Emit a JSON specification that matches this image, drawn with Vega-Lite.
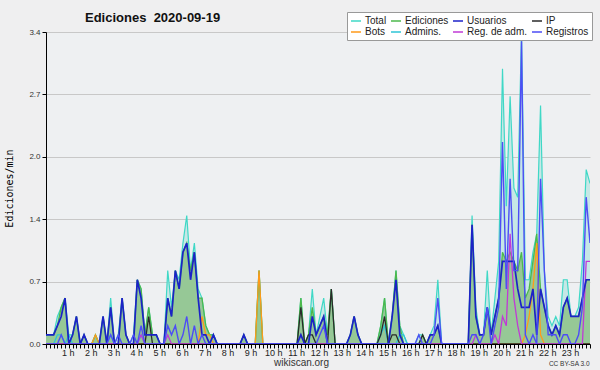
{
"$schema": "https://vega.github.io/schema/vega-lite/v6.json",
"width": 544, "height": 312,
"autosize": {"type": "none"},
"padding": {"left": 46, "top": 32, "right": 10, "bottom": 26},
"background": "#efeff0",
"title": {"text": "Ediciones\u00a0 2020-09-19", "anchor": "start", "frame": "group", "dx": 39, "dy": 14, "offset": -9, "baseline": "alphabetic", "font": "Liberation Sans", "fontSize": 13, "fontWeight": "bold", "color": "#111111"},
"data": {"values": [
{"t":0,"total":0.1,"ed":0.1,"us":0.1,"ip":0,"bots":0,"adm":0,"regadm":0,"reg":0},
{"t":10,"total":0.1,"ed":0.1,"us":0.1,"ip":0,"bots":0,"adm":0,"regadm":0,"reg":0},
{"t":20,"total":0.1,"ed":0.1,"us":0.1,"ip":0,"bots":0,"adm":0,"regadm":0,"reg":0},
{"t":30,"total":0.3,"ed":0.2,"us":0.2,"ip":0,"bots":0,"adm":0.1,"regadm":0,"reg":0},
{"t":40,"total":0.4,"ed":0.4,"us":0.3,"ip":0,"bots":0,"adm":0.1,"regadm":0,"reg":0.1},
{"t":50,"total":0.5,"ed":0.5,"us":0.5,"ip":0,"bots":0,"adm":0,"regadm":0,"reg":0},
{"t":60,"total":0.1,"ed":0,"us":0,"ip":0,"bots":0,"adm":0.1,"regadm":0,"reg":0},
{"t":70,"total":0.1,"ed":0.1,"us":0.1,"ip":0,"bots":0,"adm":0,"regadm":0,"reg":0},
{"t":80,"total":0.3,"ed":0.3,"us":0.3,"ip":0,"bots":0,"adm":0,"regadm":0,"reg":0},
{"t":90,"total":0,"ed":0,"us":0,"ip":0,"bots":0,"adm":0,"regadm":0,"reg":0},
{"t":100,"total":0.1,"ed":0.1,"us":0.1,"ip":0,"bots":0,"adm":0,"regadm":0,"reg":0},
{"t":110,"total":0,"ed":0,"us":0,"ip":0,"bots":0,"adm":0,"regadm":0,"reg":0},
{"t":120,"total":0,"ed":0,"us":0,"ip":0,"bots":0,"adm":0,"regadm":0,"reg":0},
{"t":130,"total":0.1,"ed":0.1,"us":0,"ip":0,"bots":0.1,"adm":0,"regadm":0,"reg":0},
{"t":140,"total":0,"ed":0,"us":0,"ip":0,"bots":0,"adm":0,"regadm":0,"reg":0},
{"t":150,"total":0.3,"ed":0.3,"us":0.3,"ip":0,"bots":0,"adm":0,"regadm":0,"reg":0},
{"t":160,"total":0,"ed":0,"us":0,"ip":0,"bots":0,"adm":0,"regadm":0,"reg":0},
{"t":170,"total":0.5,"ed":0.4,"us":0.4,"ip":0,"bots":0,"adm":0.1,"regadm":0,"reg":0.1},
{"t":180,"total":0,"ed":0,"us":0,"ip":0,"bots":0,"adm":0,"regadm":0,"reg":0},
{"t":190,"total":0.1,"ed":0,"us":0,"ip":0,"bots":0,"adm":0,"regadm":0,"reg":0.1},
{"t":200,"total":0.5,"ed":0.5,"us":0.5,"ip":0,"bots":0,"adm":0,"regadm":0,"reg":0},
{"t":210,"total":0.1,"ed":0.1,"us":0.1,"ip":0,"bots":0,"adm":0,"regadm":0,"reg":0},
{"t":220,"total":0,"ed":0,"us":0,"ip":0,"bots":0,"adm":0,"regadm":0,"reg":0},
{"t":230,"total":0.1,"ed":0,"us":0,"ip":0,"bots":0,"adm":0,"regadm":0,"reg":0.1},
{"t":240,"total":0.7,"ed":0.7,"us":0.7,"ip":0,"bots":0,"adm":0,"regadm":0,"reg":0},
{"t":250,"total":0.6,"ed":0.6,"us":0.5,"ip":0,"bots":0,"adm":0.1,"regadm":0.1,"reg":0.2},
{"t":260,"total":0.1,"ed":0.1,"us":0.1,"ip":0,"bots":0,"adm":0,"regadm":0,"reg":0},
{"t":270,"total":0.4,"ed":0.4,"us":0.1,"ip":0.3,"bots":0,"adm":0,"regadm":0,"reg":0},
{"t":280,"total":0.1,"ed":0.1,"us":0.1,"ip":0,"bots":0,"adm":0,"regadm":0,"reg":0},
{"t":290,"total":0.1,"ed":0.1,"us":0.1,"ip":0,"bots":0,"adm":0,"regadm":0,"reg":0},
{"t":300,"total":0,"ed":0,"us":0,"ip":0,"bots":0,"adm":0,"regadm":0,"reg":0},
{"t":310,"total":0,"ed":0,"us":0,"ip":0,"bots":0,"adm":0,"regadm":0,"reg":0},
{"t":320,"total":0.8,"ed":0.5,"us":0.5,"ip":0,"bots":0,"adm":0,"regadm":0.1,"reg":0.2},
{"t":330,"total":0.4,"ed":0.3,"us":0.3,"ip":0,"bots":0,"adm":0,"regadm":0,"reg":0.1},
{"t":340,"total":0.8,"ed":0.8,"us":0.8,"ip":0,"bots":0,"adm":0,"regadm":0,"reg":0.2},
{"t":350,"total":0.7,"ed":0.6,"us":0.6,"ip":0,"bots":0,"adm":0,"regadm":0,"reg":0},
{"t":360,"total":1.1,"ed":1.0,"us":1.0,"ip":0,"bots":0,"adm":0,"regadm":0,"reg":0.1},
{"t":370,"total":1.4,"ed":1.1,"us":1.1,"ip":0,"bots":0,"adm":0,"regadm":0,"reg":0.3},
{"t":380,"total":0.8,"ed":0.8,"us":0.7,"ip":0,"bots":0,"adm":0,"regadm":0,"reg":0},
{"t":390,"total":1.1,"ed":1.0,"us":1.0,"ip":0,"bots":0,"adm":0,"regadm":0,"reg":0.2},
{"t":400,"total":0.6,"ed":0.5,"us":0.5,"ip":0,"bots":0,"adm":0,"regadm":0,"reg":0},
{"t":410,"total":0.5,"ed":0.5,"us":0.1,"ip":0,"bots":0.3,"adm":0,"regadm":0,"reg":0.1},
{"t":420,"total":0.2,"ed":0.2,"us":0.1,"ip":0,"bots":0.1,"adm":0,"regadm":0,"reg":0},
{"t":430,"total":0.1,"ed":0.1,"us":0,"ip":0,"bots":0.1,"adm":0,"regadm":0,"reg":0},
{"t":440,"total":0.1,"ed":0.1,"us":0.1,"ip":0,"bots":0,"adm":0.1,"regadm":0,"reg":0},
{"t":450,"total":0,"ed":0,"us":0,"ip":0,"bots":0,"adm":0,"regadm":0,"reg":0},
{"t":460,"total":0,"ed":0,"us":0,"ip":0,"bots":0,"adm":0,"regadm":0,"reg":0},
{"t":470,"total":0,"ed":0,"us":0,"ip":0,"bots":0,"adm":0,"regadm":0,"reg":0},
{"t":480,"total":0,"ed":0,"us":0,"ip":0,"bots":0,"adm":0,"regadm":0,"reg":0},
{"t":490,"total":0,"ed":0,"us":0,"ip":0,"bots":0,"adm":0,"regadm":0,"reg":0},
{"t":500,"total":0,"ed":0,"us":0,"ip":0,"bots":0,"adm":0,"regadm":0,"reg":0},
{"t":510,"total":0,"ed":0,"us":0,"ip":0,"bots":0,"adm":0,"regadm":0,"reg":0},
{"t":520,"total":0.1,"ed":0.1,"us":0.1,"ip":0,"bots":0,"adm":0,"regadm":0,"reg":0},
{"t":530,"total":0,"ed":0,"us":0,"ip":0,"bots":0,"adm":0,"regadm":0,"reg":0},
{"t":540,"total":0,"ed":0,"us":0,"ip":0,"bots":0,"adm":0,"regadm":0,"reg":0},
{"t":550,"total":0,"ed":0,"us":0,"ip":0,"bots":0,"adm":0,"regadm":0,"reg":0},
{"t":560,"total":0.8,"ed":0.8,"us":0,"ip":0,"bots":0.8,"adm":0,"regadm":0,"reg":0},
{"t":570,"total":0,"ed":0,"us":0,"ip":0,"bots":0,"adm":0,"regadm":0,"reg":0},
{"t":580,"total":0,"ed":0,"us":0,"ip":0,"bots":0,"adm":0,"regadm":0,"reg":0},
{"t":590,"total":0,"ed":0,"us":0,"ip":0,"bots":0,"adm":0,"regadm":0,"reg":0},
{"t":600,"total":0,"ed":0,"us":0,"ip":0,"bots":0,"adm":0,"regadm":0,"reg":0},
{"t":610,"total":0,"ed":0,"us":0,"ip":0,"bots":0,"adm":0,"regadm":0,"reg":0},
{"t":620,"total":0,"ed":0,"us":0,"ip":0,"bots":0,"adm":0,"regadm":0,"reg":0},
{"t":630,"total":0,"ed":0,"us":0,"ip":0,"bots":0,"adm":0,"regadm":0,"reg":0},
{"t":640,"total":0,"ed":0,"us":0,"ip":0,"bots":0,"adm":0,"regadm":0,"reg":0},
{"t":650,"total":0,"ed":0,"us":0,"ip":0,"bots":0,"adm":0,"regadm":0,"reg":0},
{"t":660,"total":0,"ed":0,"us":0,"ip":0,"bots":0,"adm":0,"regadm":0,"reg":0},
{"t":670,"total":0.5,"ed":0.5,"us":0.1,"ip":0.4,"bots":0,"adm":0,"regadm":0,"reg":0},
{"t":680,"total":0,"ed":0,"us":0,"ip":0,"bots":0,"adm":0,"regadm":0,"reg":0},
{"t":690,"total":0.1,"ed":0.1,"us":0,"ip":0.1,"bots":0,"adm":0,"regadm":0,"reg":0},
{"t":700,"total":0.6,"ed":0.4,"us":0.3,"ip":0.1,"bots":0,"adm":0,"regadm":0,"reg":0},
{"t":710,"total":0.1,"ed":0.1,"us":0.1,"ip":0,"bots":0,"adm":0,"regadm":0,"reg":0},
{"t":720,"total":0.3,"ed":0.2,"us":0.2,"ip":0,"bots":0,"adm":0,"regadm":0,"reg":0.1},
{"t":730,"total":0.5,"ed":0.3,"us":0.3,"ip":0,"bots":0,"adm":0,"regadm":0,"reg":0.2},
{"t":740,"total":0.1,"ed":0.1,"us":0,"ip":0,"bots":0,"adm":0,"regadm":0,"reg":0},
{"t":750,"total":0.6,"ed":0.6,"us":0,"ip":0.6,"bots":0,"adm":0,"regadm":0,"reg":0},
{"t":760,"total":0,"ed":0,"us":0,"ip":0,"bots":0,"adm":0,"regadm":0,"reg":0},
{"t":770,"total":0,"ed":0,"us":0,"ip":0,"bots":0,"adm":0,"regadm":0,"reg":0},
{"t":780,"total":0,"ed":0,"us":0,"ip":0,"bots":0,"adm":0,"regadm":0,"reg":0},
{"t":790,"total":0,"ed":0,"us":0,"ip":0,"bots":0,"adm":0,"regadm":0,"reg":0},
{"t":800,"total":0.1,"ed":0.1,"us":0.1,"ip":0,"bots":0,"adm":0,"regadm":0,"reg":0},
{"t":810,"total":0.3,"ed":0.3,"us":0.3,"ip":0,"bots":0,"adm":0,"regadm":0,"reg":0},
{"t":820,"total":0.1,"ed":0.1,"us":0.1,"ip":0,"bots":0,"adm":0,"regadm":0,"reg":0},
{"t":830,"total":0,"ed":0,"us":0,"ip":0,"bots":0,"adm":0,"regadm":0,"reg":0},
{"t":840,"total":0,"ed":0,"us":0,"ip":0,"bots":0,"adm":0,"regadm":0,"reg":0},
{"t":850,"total":0,"ed":0,"us":0,"ip":0,"bots":0,"adm":0,"regadm":0,"reg":0},
{"t":860,"total":0,"ed":0,"us":0,"ip":0,"bots":0,"adm":0,"regadm":0,"reg":0},
{"t":870,"total":0,"ed":0,"us":0,"ip":0,"bots":0,"adm":0,"regadm":0,"reg":0},
{"t":880,"total":0.2,"ed":0.2,"us":0,"ip":0.1,"bots":0,"adm":0.1,"regadm":0,"reg":0},
{"t":890,"total":0.5,"ed":0.5,"us":0,"ip":0.3,"bots":0,"adm":0.2,"regadm":0,"reg":0},
{"t":900,"total":0,"ed":0,"us":0,"ip":0,"bots":0,"adm":0,"regadm":0,"reg":0},
{"t":910,"total":0.3,"ed":0.3,"us":0.3,"ip":0.1,"bots":0,"adm":0,"regadm":0,"reg":0},
{"t":920,"total":0.8,"ed":0.8,"us":0.7,"ip":0.1,"bots":0,"adm":0,"regadm":0,"reg":0},
{"t":930,"total":0.2,"ed":0.2,"us":0.1,"ip":0,"bots":0,"adm":0.1,"regadm":0,"reg":0},
{"t":940,"total":0.1,"ed":0,"us":0,"ip":0,"bots":0,"adm":0.1,"regadm":0,"reg":0},
{"t":950,"total":0,"ed":0,"us":0,"ip":0,"bots":0,"adm":0,"regadm":0,"reg":0},
{"t":960,"total":0,"ed":0,"us":0,"ip":0,"bots":0,"adm":0,"regadm":0,"reg":0},
{"t":970,"total":0,"ed":0,"us":0,"ip":0,"bots":0,"adm":0,"regadm":0,"reg":0},
{"t":980,"total":0.1,"ed":0,"us":0,"ip":0,"bots":0,"adm":0,"regadm":0,"reg":0.1},
{"t":990,"total":0.1,"ed":0.1,"us":0,"ip":0.1,"bots":0,"adm":0,"regadm":0,"reg":0},
{"t":1000,"total":0,"ed":0,"us":0,"ip":0,"bots":0,"adm":0,"regadm":0,"reg":0},
{"t":1010,"total":0.1,"ed":0.1,"us":0.1,"ip":0,"bots":0,"adm":0,"regadm":0,"reg":0},
{"t":1020,"total":0.2,"ed":0.1,"us":0.1,"ip":0,"bots":0,"adm":0,"regadm":0,"reg":0.1},
{"t":1030,"total":0.7,"ed":0.2,"us":0.2,"ip":0,"bots":0,"adm":0,"regadm":0,"reg":0.5},
{"t":1040,"total":0,"ed":0,"us":0,"ip":0,"bots":0,"adm":0,"regadm":0,"reg":0},
{"t":1050,"total":0,"ed":0,"us":0,"ip":0,"bots":0,"adm":0,"regadm":0,"reg":0},
{"t":1060,"total":0,"ed":0,"us":0,"ip":0,"bots":0,"adm":0,"regadm":0,"reg":0},
{"t":1070,"total":0,"ed":0,"us":0,"ip":0,"bots":0,"adm":0,"regadm":0,"reg":0},
{"t":1080,"total":0,"ed":0,"us":0,"ip":0,"bots":0,"adm":0,"regadm":0,"reg":0},
{"t":1090,"total":0,"ed":0,"us":0,"ip":0,"bots":0,"adm":0,"regadm":0,"reg":0},
{"t":1100,"total":0,"ed":0,"us":0,"ip":0,"bots":0,"adm":0,"regadm":0,"reg":0},
{"t":1110,"total":0,"ed":0,"us":0,"ip":0,"bots":0,"adm":0,"regadm":0,"reg":0},
{"t":1120,"total":1.4,"ed":1.3,"us":1.3,"ip":0,"bots":0,"adm":0,"regadm":0,"reg":0.1},
{"t":1130,"total":0.4,"ed":0.3,"us":0.3,"ip":0,"bots":0,"adm":0,"regadm":0.1,"reg":0.1},
{"t":1140,"total":0.1,"ed":0.1,"us":0.1,"ip":0,"bots":0,"adm":0,"regadm":0,"reg":0},
{"t":1150,"total":0.1,"ed":0.1,"us":0.1,"ip":0,"bots":0,"adm":0,"regadm":0,"reg":0.1},
{"t":1160,"total":0.8,"ed":0.4,"us":0.4,"ip":0,"bots":0,"adm":0,"regadm":0,"reg":0.4},
{"t":1170,"total":0.1,"ed":0.1,"us":0.1,"ip":0,"bots":0,"adm":0,"regadm":0,"reg":0},
{"t":1180,"total":0.5,"ed":0.3,"us":0.3,"ip":0,"bots":0,"adm":0,"regadm":0.1,"reg":0.2},
{"t":1190,"total":0.9,"ed":0.5,"us":0.5,"ip":0,"bots":0,"adm":0,"regadm":0,"reg":0.4},
{"t":1200,"total":3.0,"ed":1.0,"us":0.9,"ip":0,"bots":0,"adm":0,"regadm":0.3,"reg":2.2},
{"t":1210,"total":1.5,"ed":0.9,"us":0.9,"ip":0,"bots":0,"adm":0,"regadm":0.2,"reg":0.6},
{"t":1220,"total":2.7,"ed":1.0,"us":0.9,"ip":0,"bots":0,"adm":0,"regadm":1.2,"reg":1.8},
{"t":1230,"total":1.7,"ed":0.9,"us":0.9,"ip":0,"bots":0,"adm":0,"regadm":0.5,"reg":0.8},
{"t":1240,"total":1.6,"ed":0.8,"us":0.6,"ip":0,"bots":0,"adm":0,"regadm":0.2,"reg":0.8},
{"t":1250,"total":3.4,"ed":1.0,"us":0.4,"ip":0,"bots":0,"adm":0,"regadm":0,"reg":3.3},
{"t":1260,"total":0.7,"ed":0.5,"us":0.4,"ip":0,"bots":0.1,"adm":0,"regadm":0,"reg":0.1},
{"t":1270,"total":0.7,"ed":0.6,"us":0.4,"ip":0,"bots":0.3,"adm":0,"regadm":0,"reg":0},
{"t":1280,"total":1.0,"ed":0.9,"us":0.6,"ip":0,"bots":0.6,"adm":0,"regadm":0,"reg":0.1},
{"t":1290,"total":1.2,"ed":1.2,"us":0.1,"ip":0,"bots":1.1,"adm":0,"regadm":0,"reg":0},
{"t":1300,"total":2.6,"ed":0.6,"us":0.6,"ip":0,"bots":0.1,"adm":0,"regadm":0,"reg":1.8},
{"t":1310,"total":0.8,"ed":0.4,"us":0.4,"ip":0,"bots":0,"adm":0,"regadm":0,"reg":0.8},
{"t":1320,"total":0.3,"ed":0.2,"us":0.2,"ip":0,"bots":0,"adm":0,"regadm":0,"reg":0.1},
{"t":1330,"total":0.2,"ed":0.1,"us":0.1,"ip":0,"bots":0,"adm":0,"regadm":0,"reg":0.1},
{"t":1340,"total":0.3,"ed":0.2,"us":0.2,"ip":0,"bots":0,"adm":0,"regadm":0,"reg":0.1},
{"t":1350,"total":0.2,"ed":0.1,"us":0.1,"ip":0,"bots":0,"adm":0,"regadm":0,"reg":0},
{"t":1360,"total":0.7,"ed":0.4,"us":0.4,"ip":0,"bots":0,"adm":0,"regadm":0,"reg":0.1},
{"t":1370,"total":0.7,"ed":0.5,"us":0.5,"ip":0,"bots":0,"adm":0,"regadm":0,"reg":0.1},
{"t":1380,"total":0.3,"ed":0.3,"us":0.3,"ip":0,"bots":0,"adm":0,"regadm":0,"reg":0},
{"t":1390,"total":0.3,"ed":0.3,"us":0.3,"ip":0,"bots":0,"adm":0,"regadm":0,"reg":0},
{"t":1400,"total":0.4,"ed":0.3,"us":0.3,"ip":0,"bots":0,"adm":0,"regadm":0,"reg":0.1},
{"t":1410,"total":0.9,"ed":0.5,"us":0.5,"ip":0,"bots":0,"adm":0,"regadm":0,"reg":0.4},
{"t":1420,"total":1.9,"ed":0.7,"us":0.7,"ip":0,"bots":0,"adm":0,"regadm":0.9,"reg":1.6},
{"t":1430,"total":1.75,"ed":0.7,"us":0.7,"ip":0,"bots":0,"adm":0,"regadm":0.9,"reg":1.1}
]},
"encoding": {
  "x": {"field": "t", "type": "quantitative", "scale": {"domain": [0, 1430], "nice": false, "zero": false},
    "axis": {"values": [0,10,20,30,40,50,60,70,80,90,100,110,120,130,140,150,160,170,180,190,200,210,220,230,240,250,260,270,280,290,300,310,320,330,340,350,360,370,380,390,400,410,420,430,440,450,460,470,480,490,500,510,520,530,540,550,560,570,580,590,600,610,620,630,640,650,660,670,680,690,700,710,720,730,740,750,760,770,780,790,800,810,820,830,840,850,860,870,880,890,900,910,920,930,940,950,960,970,980,990,1000,1010,1020,1030,1040,1050,1060,1070,1080,1090,1100,1110,1120,1130,1140,1150,1160,1170,1180,1190,1200,1210,1220,1230,1240,1250,1260,1270,1280,1290,1300,1310,1320,1330,1340,1350,1360,1370,1380,1390,1400,1410,1420,1430],
      "labelExpr": "datum.value % 60 == 0 && datum.value > 0 ? (datum.value / 60) + ' h' : ''",
      "labelOverlap": false, "labelFlush": false, "grid": false,
      "tickSize": 4, "tickColor": "#000000", "domainColor": "#000000",
      "labelFont": "Liberation Sans", "labelFontSize": 9, "labelColor": "#222222", "labelPadding": 0, "labelOffset": -1,
      "title": "wikiscan.org", "titleFont": "Liberation Sans", "titleFontSize": 10, "titleFontWeight": "normal", "titleColor": "#333333",
      "titleX": 255, "titleY": 18, "titleAlign": "center", "titleBaseline": "middle"}}
},
"layer": [
  {"layer": [
    {"mark": {"type": "area", "color": "#c6e7e6", "clip": true},
     "encoding": {"y": {"field": "total", "type": "quantitative", "title": "Ediciones/min",
       "scale": {"domain": [0, 3.4], "nice": false, "zero": true},
       "axis": {"values": [0,0.17,0.34,0.51,0.68,0.85,1.02,1.19,1.36,1.53,1.7,1.87,2.04,2.21,2.38,2.55,2.72,2.89,3.06,3.23,3.4],
         "labelExpr": "abs(datum.value / 0.68 - round(datum.value / 0.68)) < 0.01 ? format(datum.value, '.1f') : ''",
         "labelOverlap": false, "labelFlush": false,
         "grid": true, "gridColor": "#c8c8c8",
         "gridOpacity": {"condition": {"test": "abs(datum.value / 0.68 - round(datum.value / 0.68)) < 0.01", "value": 1}, "value": 0},
         "tickSize": 4, "tickColor": "#000000", "domainColor": "#000000",
         "labelFont": "Liberation Sans", "labelFontSize": 8, "labelColor": "#333333", "labelPadding": 2,
         "titleFont": "DejaVu Sans Mono", "titleFontSize": 10, "titleFontWeight": "normal", "titleColor": "#000000",
         "titleAngle": 270, "titleX": -37, "titleY": 156, "titleAlign": "center", "titleBaseline": "middle"}}}},
    {"mark": {"type": "area", "color": "#96c896", "clip": true},
     "encoding": {"y": {"field": "ed", "type": "quantitative", "title": "Ediciones/min", "scale": {"domain": [0, 3.4], "nice": false}}}},
    {"mark": {"type": "line", "strokeWidth": 1.2, "clip": true},
     "encoding": {"y": {"field": "total", "type": "quantitative", "title": "Ediciones/min", "scale": {"domain": [0, 3.4], "nice": false}},
       "color": {"datum": "Total", "type": "nominal", "title": null,
         "scale": {"domain": ["Total","Ediciones","Usuarios","IP","Bots","Admins.","Reg. de adm.","Registros"], "range": ["#3fd8c6","#4cb84c","#1c22c8","#2a2a2a","#ff9a1a","#2ec4d6","#c03ad6","#4d4df5"]},
         "legend": {"title": null, "orient": "none", "legendX": 301, "legendY": -20, "columns": 4, "direction": "horizontal",
           "symbolType": "stroke", "symbolSize": 100, "symbolStrokeWidth": 1.5,
           "labelFont": "Liberation Sans", "labelFontSize": 10, "labelColor": "#222222", "labelOffset": 3,
           "columnPadding": 1, "rowPadding": 0, "padding": 3, "fillColor": "#ffffff", "strokeColor": "#999999"}}}},
    {"mark": {"type": "line", "strokeWidth": 1.3, "clip": true},
     "encoding": {"y": {"field": "ed", "type": "quantitative", "title": "Ediciones/min", "scale": {"domain": [0, 3.4], "nice": false}},
       "color": {"datum": "Ediciones", "type": "nominal", "title": null,
         "scale": {"domain": ["Total","Ediciones","Usuarios","IP","Bots","Admins.","Reg. de adm.","Registros"], "range": ["#3fd8c6","#4cb84c","#1c22c8","#2a2a2a","#ff9a1a","#2ec4d6","#c03ad6","#4d4df5"]}}}},
    {"mark": {"type": "line", "strokeWidth": 1.3, "clip": true},
     "encoding": {"y": {"field": "adm", "type": "quantitative", "title": "Ediciones/min", "scale": {"domain": [0, 3.4], "nice": false}},
       "color": {"datum": "Admins.", "type": "nominal", "title": null,
         "scale": {"domain": ["Total","Ediciones","Usuarios","IP","Bots","Admins.","Reg. de adm.","Registros"], "range": ["#3fd8c6","#4cb84c","#1c22c8","#2a2a2a","#ff9a1a","#2ec4d6","#c03ad6","#4d4df5"]}}}},
    {"mark": {"type": "line", "strokeWidth": 1.3, "clip": true},
     "encoding": {"y": {"field": "bots", "type": "quantitative", "title": "Ediciones/min", "scale": {"domain": [0, 3.4], "nice": false}},
       "color": {"datum": "Bots", "type": "nominal", "title": null,
         "scale": {"domain": ["Total","Ediciones","Usuarios","IP","Bots","Admins.","Reg. de adm.","Registros"], "range": ["#3fd8c6","#4cb84c","#1c22c8","#2a2a2a","#ff9a1a","#2ec4d6","#c03ad6","#4d4df5"]}}}},
    {"mark": {"type": "line", "strokeWidth": 1.3, "clip": true},
     "encoding": {"y": {"field": "ip", "type": "quantitative", "title": "Ediciones/min", "scale": {"domain": [0, 3.4], "nice": false}},
       "color": {"datum": "IP", "type": "nominal", "title": null,
         "scale": {"domain": ["Total","Ediciones","Usuarios","IP","Bots","Admins.","Reg. de adm.","Registros"], "range": ["#3fd8c6","#4cb84c","#1c22c8","#2a2a2a","#ff9a1a","#2ec4d6","#c03ad6","#4d4df5"]}}}},
    {"mark": {"type": "line", "strokeWidth": 1.3, "clip": true},
     "encoding": {"y": {"field": "regadm", "type": "quantitative", "title": "Ediciones/min", "scale": {"domain": [0, 3.4], "nice": false}},
       "color": {"datum": "Reg. de adm.", "type": "nominal", "title": null,
         "scale": {"domain": ["Total","Ediciones","Usuarios","IP","Bots","Admins.","Reg. de adm.","Registros"], "range": ["#3fd8c6","#4cb84c","#1c22c8","#2a2a2a","#ff9a1a","#2ec4d6","#c03ad6","#4d4df5"]}}}},
    {"mark": {"type": "line", "strokeWidth": 1.7, "clip": true},
     "encoding": {"y": {"field": "us", "type": "quantitative", "title": "Ediciones/min", "scale": {"domain": [0, 3.4], "nice": false}},
       "color": {"datum": "Usuarios", "type": "nominal", "title": null,
         "scale": {"domain": ["Total","Ediciones","Usuarios","IP","Bots","Admins.","Reg. de adm.","Registros"], "range": ["#3fd8c6","#4cb84c","#1c22c8","#2a2a2a","#ff9a1a","#2ec4d6","#c03ad6","#4d4df5"]}}}}
  ]},
  {"mark": {"type": "line", "strokeWidth": 1.4, "clip": true},
   "encoding": {"y": {"field": "reg", "type": "quantitative", "scale": {"domain": [0, 3.4], "nice": false, "zero": true},
       "axis": {"orient": "right", "domain": false, "ticks": false, "labels": false, "grid": false,
         "title": "CC BY-SA 3.0", "titleAngle": 0, "titleX": -1, "titleY": 331, "titleAlign": "right", "titleBaseline": "middle",
         "titleFont": "Liberation Sans", "titleFontSize": 6.5, "titleFontWeight": "normal", "titleColor": "#333333"}},
     "color": {"datum": "Registros", "type": "nominal", "title": null,
       "scale": {"domain": ["Total","Ediciones","Usuarios","IP","Bots","Admins.","Reg. de adm.","Registros"], "range": ["#3fd8c6","#4cb84c","#1c22c8","#2a2a2a","#ff9a1a","#2ec4d6","#c03ad6","#4d4df5"]}}}}
],
"resolve": {"scale": {"y": "independent"}},
"config": {"view": {"fill": "#eef0f2", "stroke": null}}
}
